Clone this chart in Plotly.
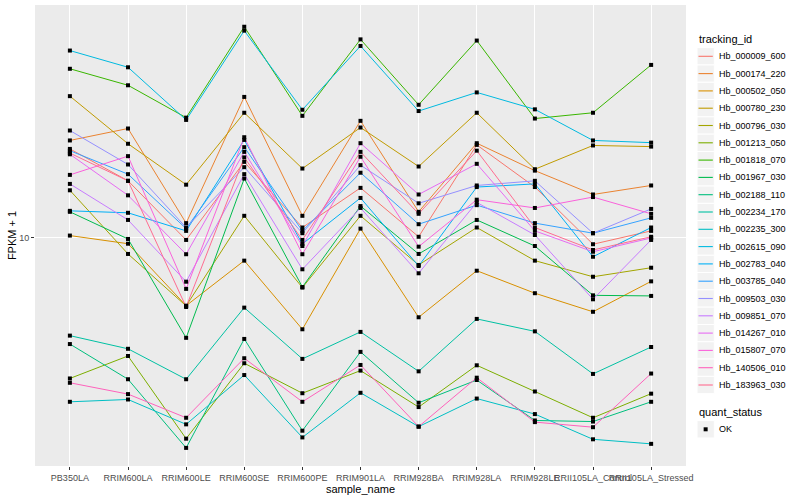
import plotly.graph_objects as go

samples = ["PB350LA", "RRIM600LA", "RRIM600LE", "RRIM600SE", "RRIM600PE", "RRIM901LA",
           "RRIM928BA", "RRIM928LA", "RRIM928LE", "RRII105LA_Control", "RRII105LA_Stressed"]

tracking_ids = ["Hb_000009_600", "Hb_000174_220", "Hb_000502_050", "Hb_000780_230", "Hb_000796_030",
                "Hb_001213_050", "Hb_001818_070", "Hb_001967_030", "Hb_002188_110", "Hb_002234_170",
                "Hb_002235_300", "Hb_002615_090", "Hb_002783_040", "Hb_003785_040", "Hb_009503_030",
                "Hb_009851_070", "Hb_014267_010", "Hb_015807_070", "Hb_140506_010", "Hb_183963_030"]

colors = ["#F8766D", "#EA8331", "#D89000", "#C09B00", "#A3A500", "#7CAE00", "#39B600", "#00BB4E",
          "#00BF7D", "#00C1A3", "#00BFC4", "#00BAE0", "#00B0F6", "#35A2FF", "#9590FF", "#C77CFF",
          "#E76BF3", "#FA62DB", "#FF62BC", "#FF6C91"]

# FPKM + 1 per gene, in the order of `samples`
Hb_000009_600 = [20.8, 16.0, 9.84, 18.7, 10.9, 15.1, 10.1, 21.5, 15.2, 9.50, 10.6]
Hb_000174_220 = [22.3, 24.6, 11.3, 31.9, 12.0, 26.2, 12.4, 21.8, 17.4, 14.3, 15.4]
Hb_000502_050 = [10.2, 9.54, 5.73, 8.30, 4.72, 10.8, 5.21, 7.64, 6.35, 5.45, 7.00]
Hb_000780_230 = [32.1, 21.7, 15.5, 28.0, 17.7, 24.8, 18.0, 28.0, 17.6, 21.4, 21.2]
Hb_000796_030 = [14.8, 8.77, 5.72, 12.0, 6.65, 12.0, 8.01, 10.9, 8.30, 7.27, 7.83]
Hb_001213_050 = [3.15, 3.79, 1.92, 3.57, 2.79, 3.36, 2.49, 3.51, 2.83, 2.28, 2.78]
Hb_001818_070 = [40.2, 35.1, 26.9, 56.8, 27.3, 51.2, 29.9, 50.7, 26.7, 28.0, 41.5]
Hb_001967_030 = [12.4, 9.92, 4.40, 16.3, 6.68, 13.0, 8.77, 11.6, 9.36, 6.24, 6.21]
Hb_002188_110 = [4.18, 3.13, 1.78, 4.36, 2.05, 3.92, 2.58, 3.11, 2.23, 2.21, 2.60]
Hb_002234_170 = [4.48, 4.02, 3.13, 5.64, 3.70, 4.62, 3.34, 5.14, 4.64, 3.27, 4.08]
Hb_002235_300 = [2.60, 2.65, 2.16, 3.24, 1.94, 2.80, 2.12, 2.67, 2.35, 1.91, 1.84]
Hb_002615_090 = [46.7, 40.7, 26.4, 55.0, 28.7, 48.5, 28.4, 33.1, 28.8, 22.3, 21.9]
Hb_002783_040 = [12.5, 12.3, 10.6, 22.4, 9.52, 13.9, 7.94, 15.2, 15.6, 8.57, 10.9]
Hb_003785_040 = [20.5, 16.9, 10.8, 21.1, 10.6, 17.1, 11.2, 13.1, 11.3, 10.4, 11.8]
Hb_009503_030 = [24.2, 18.3, 10.9, 17.9, 10.4, 18.2, 13.3, 15.4, 16.0, 10.4, 12.7]
Hb_009851_070 = [15.6, 11.6, 6.98, 16.9, 7.73, 12.8, 7.48, 13.4, 10.25, 6.04, 9.84]
Hb_014267_010 = [19.9, 14.2, 8.75, 20.3, 9.36, 21.8, 14.3, 18.4, 10.6, 8.93, 10.0]
Hb_015807_070 = [16.8, 19.6, 6.58, 22.9, 8.75, 19.5, 9.31, 13.7, 12.8, 14.0, 12.2]
Hb_140506_010 = [3.04, 2.77, 2.28, 3.72, 2.60, 3.52, 2.12, 3.17, 2.20, 2.11, 3.28]
Hb_183963_030 = [20.1, 16.0, 5.67, 19.4, 9.84, 20.3, 12.2, 20.5, 10.9, 9.06, 10.1]

series = [Hb_000009_600, Hb_000174_220, Hb_000502_050, Hb_000780_230, Hb_000796_030,
          Hb_001213_050, Hb_001818_070, Hb_001967_030, Hb_002188_110, Hb_002234_170,
          Hb_002235_300, Hb_002615_090, Hb_002783_040, Hb_003785_040, Hb_009503_030,
          Hb_009851_070, Hb_014267_010, Hb_015807_070, Hb_140506_010, Hb_183963_030]

quant_status = "OK"

W, H = 800, 500
ML, MR, MT, MB = 35, 114, 5, 34
PW, PH = W - ML - MR, H - MT - MB


def px(x):
    return (x - ML) / PW


def py(y):
    return (H - MB - y) / PH


fig = go.Figure()
for name, vals, col in zip(tracking_ids, series, colors):
    fig.add_trace(go.Scatter(x=samples, y=vals, mode="lines", name=name,
                             line=dict(color=col, width=1.0), showlegend=False))

all_x, all_y = [], []
for vals in series:
    all_x += samples
    all_y += vals
fig.add_trace(go.Scatter(x=all_x, y=all_y, mode="markers", name=quant_status,
                         marker=dict(symbol="square", size=4, color="black"),
                         showlegend=False))

# ggplot-style legends drawn in the right margin
shapes, annos = [], []
lx0, key = 697, 17.3
annos.append(dict(x=px(lx0), y=py(39), xref="paper", yref="paper", text="tracking_id",
                  showarrow=False, xanchor="left", yanchor="middle",
                  font=dict(size=11, color="black")))
for i, (name, col) in enumerate(zip(tracking_ids, colors)):
    cy = 56.3 + key * i
    shapes.append(dict(type="rect", xref="paper", yref="paper",
                       x0=px(lx0), x1=px(lx0 + key), y0=py(cy - key / 2), y1=py(cy + key / 2),
                       fillcolor="#F2F2F2", line=dict(color="white", width=1)))
    shapes.append(dict(type="line", xref="paper", yref="paper",
                       x0=px(lx0 + 1.5), x1=px(lx0 + key - 1.5), y0=py(cy), y1=py(cy),
                       line=dict(color=col, width=1.1)))
    annos.append(dict(x=px(lx0 + key + 2.5), y=py(cy), xref="paper", yref="paper", text=name,
                      showarrow=False, xanchor="left", yanchor="middle",
                      font=dict(size=9, color="black")))

annos.append(dict(x=px(lx0), y=py(412), xref="paper", yref="paper", text="quant_status",
                  showarrow=False, xanchor="left", yanchor="middle",
                  font=dict(size=11, color="black")))
cy = 429.3
shapes.append(dict(type="rect", xref="paper", yref="paper",
                   x0=px(lx0), x1=px(lx0 + key), y0=py(cy - key / 2), y1=py(cy + key / 2),
                   fillcolor="#F2F2F2", line=dict(color="white", width=1)))
shapes.append(dict(type="rect", xref="paper", yref="paper",
                   x0=px(lx0 + key / 2 - 2), x1=px(lx0 + key / 2 + 2), y0=py(cy - 2), y1=py(cy + 2),
                   fillcolor="black", line=dict(width=0)))
annos.append(dict(x=px(lx0 + key + 2.5), y=py(cy), xref="paper", yref="paper", text=quant_status,
                  showarrow=False, xanchor="left", yanchor="middle",
                  font=dict(size=9, color="black")))

font = "Liberation Sans, Arial, sans-serif"
fig.update_layout(
    width=W, height=H,
    margin=dict(l=ML, r=MR, t=MT, b=MB, autoexpand=False),
    paper_bgcolor="white", plot_bgcolor="#EBEBEB",
    font=dict(family=font, size=9, color="#4D4D4D"),
    showlegend=False,
    shapes=shapes, annotations=annos,
    xaxis=dict(categoryorder="array", categoryarray=samples, range=[-0.6, 10.6],
               showgrid=True, gridcolor="white", gridwidth=1.1, zeroline=False,
               ticks="outside", ticklen=3, tickcolor="#333333", tickangle=0, automargin=False,
               tickfont=dict(size=9, color="#4D4D4D"),
               title=dict(text="sample_name", font=dict(size=11, color="black"), standoff=2)),
    yaxis=dict(type="log", range=[0.1857, 1.832], tickmode="array", tickvals=[10], ticktext=["10"],
               showgrid=True, gridcolor="white", gridwidth=1.1, zeroline=False,
               ticks="outside", ticklen=3, tickcolor="#333333", automargin=False,
               tickfont=dict(size=9, color="#4D4D4D"),
               title=dict(text="FPKM + 1", font=dict(size=11, color="black"), standoff=0)),
)

fig.write_html("out.html", config={"displayModeBar": False},
               post_script="document.body.style.margin='0px';")
